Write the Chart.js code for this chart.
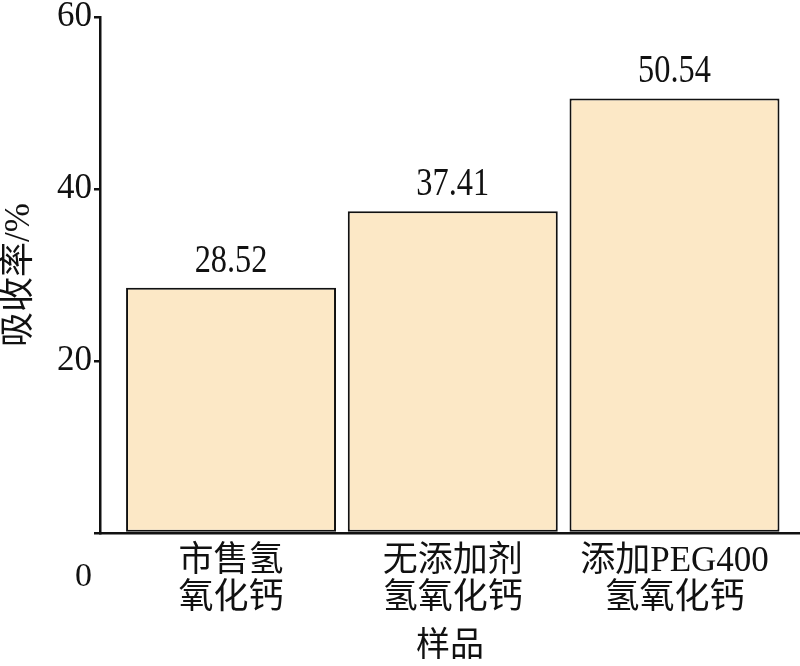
<!DOCTYPE html>
<html>
<head>
<meta charset="utf-8">
<script src="https://cdn.jsdelivr.net/npm/chart.js@4.4.1/dist/chart.umd.min.js"></script>
<style>
html,body{margin:0;padding:0;background:#fff;}
#wrap{width:800px;height:666px;}
</style>
</head>
<body>
<div id="wrap"><canvas id="c" width="800" height="666"></canvas></div>
<script>
const categories = [["市售氢","氧化钙"],["无添加剂","氢氧化钙"],["添加PEG400","氢氧化钙"]];
const absorption = [28.52, 37.41, 50.54];
const yTicks = [0, 20, 40, 60];
const xTitle = "样品";
const yTitle = "吸收率/%";

const serif = "'Liberation Serif','Noto Sans CJK SC',serif";
const ink = "#111";

const labelPlugin = {
  id: 'valueLabels',
  afterDatasetsDraw(chart) {
    const ctx = chart.ctx;
    const meta = chart.getDatasetMeta(0);
    ctx.save();
    ctx.font = "39px " + serif;
    ctx.fillStyle = ink;
    ctx.textAlign = 'center';
    ctx.textBaseline = 'alphabetic';
    meta.data.forEach((bar, i) => {
      ctx.save();
      ctx.translate(bar.x, bar.y - 16);
      ctx.scale(0.83, 1);
      ctx.fillText(absorption[i].toFixed(2), 0, 0);
      ctx.restore();
    });
    ctx.restore();
  },
  afterDraw(chart) {
    // the zero label of the y axis sits below the axis in the original
    const ys = chart.scales.y;
    const ctx = chart.ctx;
    ctx.save();
    ctx.font = "34px " + serif;
    ctx.fillStyle = ink;
    ctx.textAlign = 'right';
    ctx.textBaseline = 'middle';
    ctx.fillText(String(yTicks[0]), ys.right - 8, ys.getPixelForValue(yTicks[0]) + 44);
    ctx.restore();
  }
};

new Chart(document.getElementById('c'), {
  type: 'bar',
  data: {
    datasets: [{
      data: absorption.map((v, i) => ({x: i, y: v})),
      backgroundColor: '#FCE8C6',
      borderColor: ink,
      borderWidth: 2,
      borderSkipped: false,
      categoryPercentage: 1,
      barPercentage: 0.947
    }]
  },
  options: {
    responsive: false,
    animation: false,
    layout: {padding: {top: 0, right: 0, left: 0, bottom: 0}},
    plugins: {legend: {display: false}, tooltip: {enabled: false}},
    scales: {
      x: {
        type: 'linear',
        offset: false,
        min: -0.591,
        max: 2.566,
        afterBuildTicks(scale) {
          scale.ticks = categories.map((c, i) => ({value: i}));
        },
        afterFit(scale) { scale.height = 133; },
        grid: {display: false, drawTicks: false, offset: false},
        border: {display: true, color: ink, width: 2.5},
        ticks: {
          autoSkip: false,
          maxRotation: 0,
          padding: 10,
          color: ink,
          font: {family: serif, size: 35, lineHeight: 1.06},
          callback: (v) => categories[v]
        },
        title: {
          display: true,
          text: xTitle,
          color: ink,
          font: {family: serif, size: 34, lineHeight: 1},
          padding: {top: 0, bottom: 2}
        }
      },
      y: {
        min: 0,
        max: 60,
        afterBuildTicks(scale) {
          scale.ticks = yTicks.map(v => ({value: v}));
        },
        afterFit(scale) { scale.width = 100; },
        grid: {display: true, drawOnChartArea: false, drawTicks: true, tickLength: 6, color: ink, lineWidth: 2.5},
        border: {display: true, color: ink, width: 2.5},
        ticks: {
          padding: 2,
          color: ink,
          font: {family: serif, size: 35, lineHeight: 0.86},
          callback: (v) => v === 0 ? '' : String(v)
        },
        title: {
          display: true,
          text: yTitle,
          color: ink,
          font: {family: serif, size: 35, lineHeight: 1},
          padding: {top: 2, bottom: 0}
        }
      }
    }
  },
  plugins: [labelPlugin]
});
</script>
</body>
</html>
